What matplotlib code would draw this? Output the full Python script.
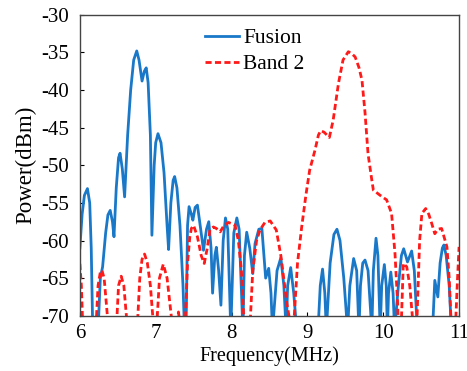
import numpy as np
import matplotlib.pyplot as plt

plt.rcParams["font.family"] = ["Liberation Serif", "DejaVu Serif"]
plt.rcParams["axes.unicode_minus"] = False

# Fusion (blue) spectrum; -72 marks nulls below the axis
fusion_f = [6.00, 6.03, 6.06, 6.10, 6.13, 6.15, 6.17, 6.24, 6.27, 6.30, 6.34, 6.37,
            6.40, 6.43, 6.45, 6.48, 6.51, 6.53, 6.56, 6.59, 6.63, 6.67, 6.71, 6.75,
            6.78, 6.82, 6.85, 6.875, 6.90, 6.93, 6.95, 6.98, 7.00, 7.03, 7.07, 7.11,
            7.15, 7.17, 7.20, 7.23, 7.25, 7.28, 7.32, 7.36, 7.38, 7.40, 7.42, 7.44,
            7.47, 7.49, 7.52, 7.55, 7.58, 7.63, 7.67, 7.70, 7.73, 7.75, 7.78, 7.80,
            7.83, 7.86, 7.89, 7.92, 7.95, 7.99, 8.03, 8.07, 8.10, 8.15, 8.17, 8.20,
            8.24, 8.28, 8.31, 8.36, 8.40, 8.42, 8.45, 8.49, 8.52, 8.54, 8.60, 8.65,
            8.69, 8.72, 8.74, 8.78, 8.82, 8.86, 9.14, 9.17, 9.20, 9.23, 9.25, 9.30,
            9.35, 9.39, 9.43, 9.48, 9.53, 9.56, 9.61, 9.65, 9.68, 9.70, 9.73, 9.76,
            9.80, 9.85, 9.87, 9.905, 9.93, 9.96, 9.98, 10.015, 10.04, 10.055, 10.07,
            10.10, 10.13, 10.15, 10.20, 10.24, 10.27, 10.32, 10.375, 10.41, 10.45,
            10.65, 10.68, 10.72, 10.75, 10.78, 10.80, 10.83, 10.87, 10.90]
fusion_p = [-61, -56.5, -54, -53.1, -55, -61, -72, -72, -65, -63.5, -59, -56.6,
            -56.0, -57.5, -59.5, -53, -49, -48.4, -50.5, -54.2, -46, -40, -36, -34.8,
            -36, -38.8, -37.5, -37.05, -39, -46, -59.3, -50, -47, -45.8, -47, -51,
            -58, -61.2, -55, -52, -51.5, -53, -58, -66, -72, -72, -58, -55.5,
            -56.5, -57.3, -55.6, -55.3, -57.5, -61.3, -58.5, -57.5, -61, -67, -62, -60.9,
            -64, -68.6, -60, -57, -58.5, -72, -59, -57, -58.5, -72, -62, -58.9,
            -61, -64.4, -60.4, -58.5, -58.4, -61, -65, -63.7, -67, -72, -64, -62.3,
            -66, -72, -66, -63.6, -67, -72, -72, -66, -63.8, -67, -72, -63,
            -59.2, -58.5, -60, -65, -72, -66, -62.4, -64, -72, -66, -63, -62.6,
            -64, -72, -64, -59.7, -62, -72, -66, -63.2, -66, -72, -67,
            -64.2, -67, -72, -66, -62, -61.1, -62.85, -61.4, -64, -72,
            -72, -65.3, -67.5, -63, -61, -60.6, -62, -66, -72]

# Band 2 (red dashed) spectrum
band2_f = [6.00, 6.02, 6.04, 6.21, 6.24, 6.27, 6.29, 6.32, 6.38, 6.48, 6.51, 6.545,
           6.58, 6.63, 6.755, 6.79, 6.82, 6.853, 6.89, 6.93, 6.976, 7.01, 7.05, 7.10,
           7.15, 7.227, 7.27, 7.30, 7.33, 7.385, 7.42, 7.45, 7.47, 7.50, 7.55, 7.60,
           7.64, 7.68, 7.715, 7.76, 7.80, 7.85, 7.90, 7.96, 8.045, 8.09, 8.13, 8.17,
           8.24, 8.28, 8.33, 8.375, 8.44, 8.51, 8.59, 8.65, 8.73, 8.79, 8.815, 8.87,
           8.925, 8.98, 9.03, 9.10, 9.145, 9.175, 9.22, 9.29, 9.34, 9.41, 9.47, 9.54,
           9.59, 9.63, 9.68, 9.72, 9.76, 9.80, 9.85, 9.87, 9.96, 10.045, 10.11, 10.155,
           10.19, 10.20, 10.235, 10.265, 10.31, 10.35, 10.40, 10.44, 10.48, 10.51, 10.56,
           10.60, 10.64, 10.68, 10.72, 10.77, 10.84, 10.87, 10.90, 10.95, 10.98, 11.00]
band2_p = [-63.1, -66, -72, -72, -66, -64.2, -63.95, -65, -72, -72, -66, -64.75,
           -66, -72, -72, -65, -62.5, -61.8, -63, -66, -72, -72, -65, -63.15,
           -65, -72, -72, -69.5, -72, -72, -63, -59.5, -58.4, -58, -59.5, -62,
           -63.05, -61, -58.6, -58.2, -58.4, -58.85, -58, -57.6, -57.95, -60, -64, -72,
           -72, -64, -60, -58.6, -57.6, -57.4, -58.6, -62, -68.4, -72, -72, -63,
           -58.2, -54, -50.65, -48.0, -46.0, -45.4, -45.6, -46.3, -44.0, -39.1, -36, -34.9,
           -35.2, -35.6, -37, -38.7, -43, -48.5, -52.0, -53.3, -54.0, -54.6, -56.4, -61.7,
           -68.4, -72, -72, -63.05, -63.5, -66, -72, -72, -60, -56.4, -55.75,
           -56.5, -57.75, -59.1, -58.5, -58.4, -60.85, -65, -72, -72, -65, -60.85]

x_ticks = [6, 7, 8, 9, 10, 11]
y_ticks = [-30, -35, -40, -45, -50, -55, -60, -65, -70]

fig = plt.figure(figsize=(4.67, 3.71), dpi=100)
ax = fig.add_axes([0.171, 0.149, 0.812, 0.811])

ax.plot(fusion_f, fusion_p, color="#1a78c8", linewidth=2.0, label="Fusion")
ax.plot(band2_f, band2_p, color="#ff1a1a", linewidth=2.0,
        linestyle=(0, (2.2, 1.2)), label="Band 2")

ax.set_xlim(6, 11)
ax.set_ylim(-70, -30)
ax.set_xticks(x_ticks)
ax.set_yticks(y_ticks)
ax.tick_params(direction="in", length=3, labelsize=15, top=False, right=False)
ax.tick_params(axis="y", pad=8)
ax.tick_params(axis="x", pad=6)
for s in ax.spines.values():
    s.set_color("#444444")
    s.set_linewidth(1.0)

ax.set_xlabel("Frequency(MHz)", fontsize=14.5, labelpad=2)
ax.set_ylabel("Power(dBm)", fontsize=16.5, labelpad=3)

ax.legend(loc="upper left", bbox_to_anchor=(0.28, 1.02), frameon=False,
          fontsize=15.5, handlelength=1.55, handletextpad=0.2, labelspacing=0.28)

fig.savefig("out.png", dpi=100)
